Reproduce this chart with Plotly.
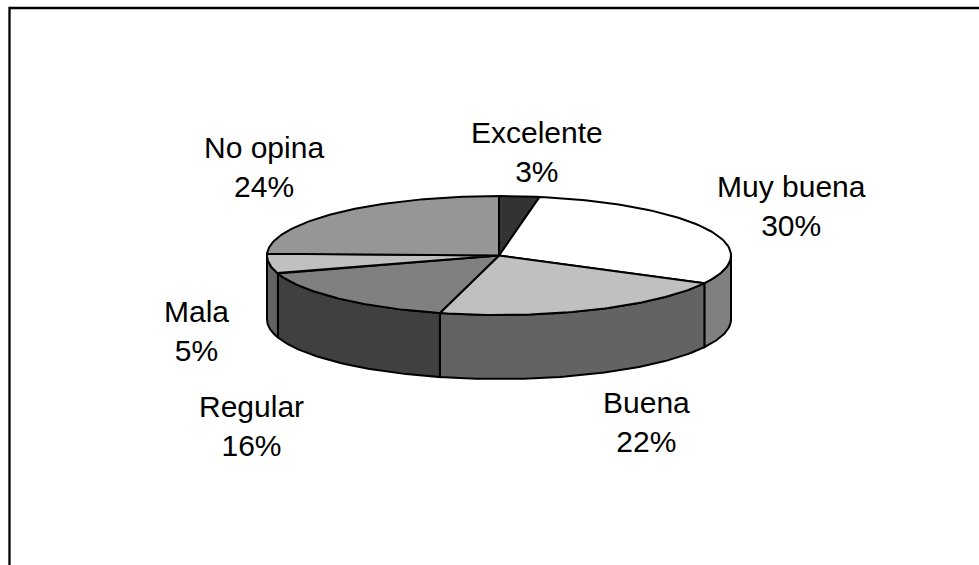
import numpy as np
import plotly.graph_objects as go

# Chart values
categories = ["Excelente", "Muy buena", "Buena", "Regular", "Mala", "No opina"]
shares = [2.8, 29.9, 21.4, 16.0, 5.4, 24.5]  # measured from the slice edges
percent_labels = ["3%", "30%", "22%", "16%", "5%", "24%"]

# Greys per slice
top_colors = ["#333333", "#ffffff", "#c0c0c0", "#808080", "#c0c0c0", "#969696"]
side_colors = ["#333333", "#808080", "#636363", "#404040", "#636363", "#969696"]

# Centre of each label, in page pixels
label_x = [537, 791, 646, 251, 196, 264]
label_y = [152, 206, 422, 426, 331, 167]

# Pie geometry, in page pixels
CX, CY = 499, 255.5
RX, RY = 232, 59.5
DEPTH = 64
LINE = dict(color="black", width=2)


def rim(t):
    return CX + RX * np.sin(t), CY - RY * np.cos(t)


fig = go.Figure()

edges = 2 * np.pi * np.cumsum([0] + shares) / sum(shares)

# Side wall, only the part facing the viewer
for i, name in enumerate(categories):
    start = max(edges[i], np.pi / 2)
    end = min(edges[i + 1], 3 * np.pi / 2)
    if start >= end:
        continue
    t = np.linspace(start, end, 60)
    x, y = rim(t)
    fig.add_trace(
        go.Scatter(
            x=np.concatenate([x, x[::-1], x[:1]]),
            y=np.concatenate([y, y[::-1] + DEPTH, y[:1]]),
            mode="lines",
            fill="toself",
            fillcolor=side_colors[i],
            line=LINE,
            hoverinfo="skip",
        )
    )

# Top face
for i, name in enumerate(categories):
    t = np.linspace(edges[i], edges[i + 1], 80)
    x, y = rim(t)
    fig.add_trace(
        go.Scatter(
            x=np.concatenate([[CX], x, [CX]]),
            y=np.concatenate([[CY], y, [CY]]),
            mode="lines",
            fill="toself",
            fillcolor=top_colors[i],
            line=LINE,
            name=name,
            hoverinfo="skip",
        )
    )

for name, pct, lx, ly in zip(categories, percent_labels, label_x, label_y):
    fig.add_annotation(
        x=lx,
        y=ly,
        text=f"{name}<br>{pct}",
        showarrow=False,
        align="center",
        font=dict(family="Liberation Sans, Arial, sans-serif", size=30, color="black"),
    )

# Outer frame, open at the bottom and on the right
fig.add_shape(
    type="path",
    path="M 9.5 565 L 9.5 8 L 979 8",
    line=dict(color="black", width=2.3),
)

fig.update_xaxes(range=[0, 979], visible=False)
fig.update_yaxes(range=[565, 0], visible=False)
fig.update_layout(
    width=979,
    height=565,
    margin=dict(l=0, r=0, t=0, b=0),
    showlegend=False,
    paper_bgcolor="white",
    plot_bgcolor="white",
)

# The page's default body margin would push the figure 8px off
fig.write_html(
    "out.html",
    config={"displayModeBar": False},
    post_script="document.body.style.margin = '0';",
)
